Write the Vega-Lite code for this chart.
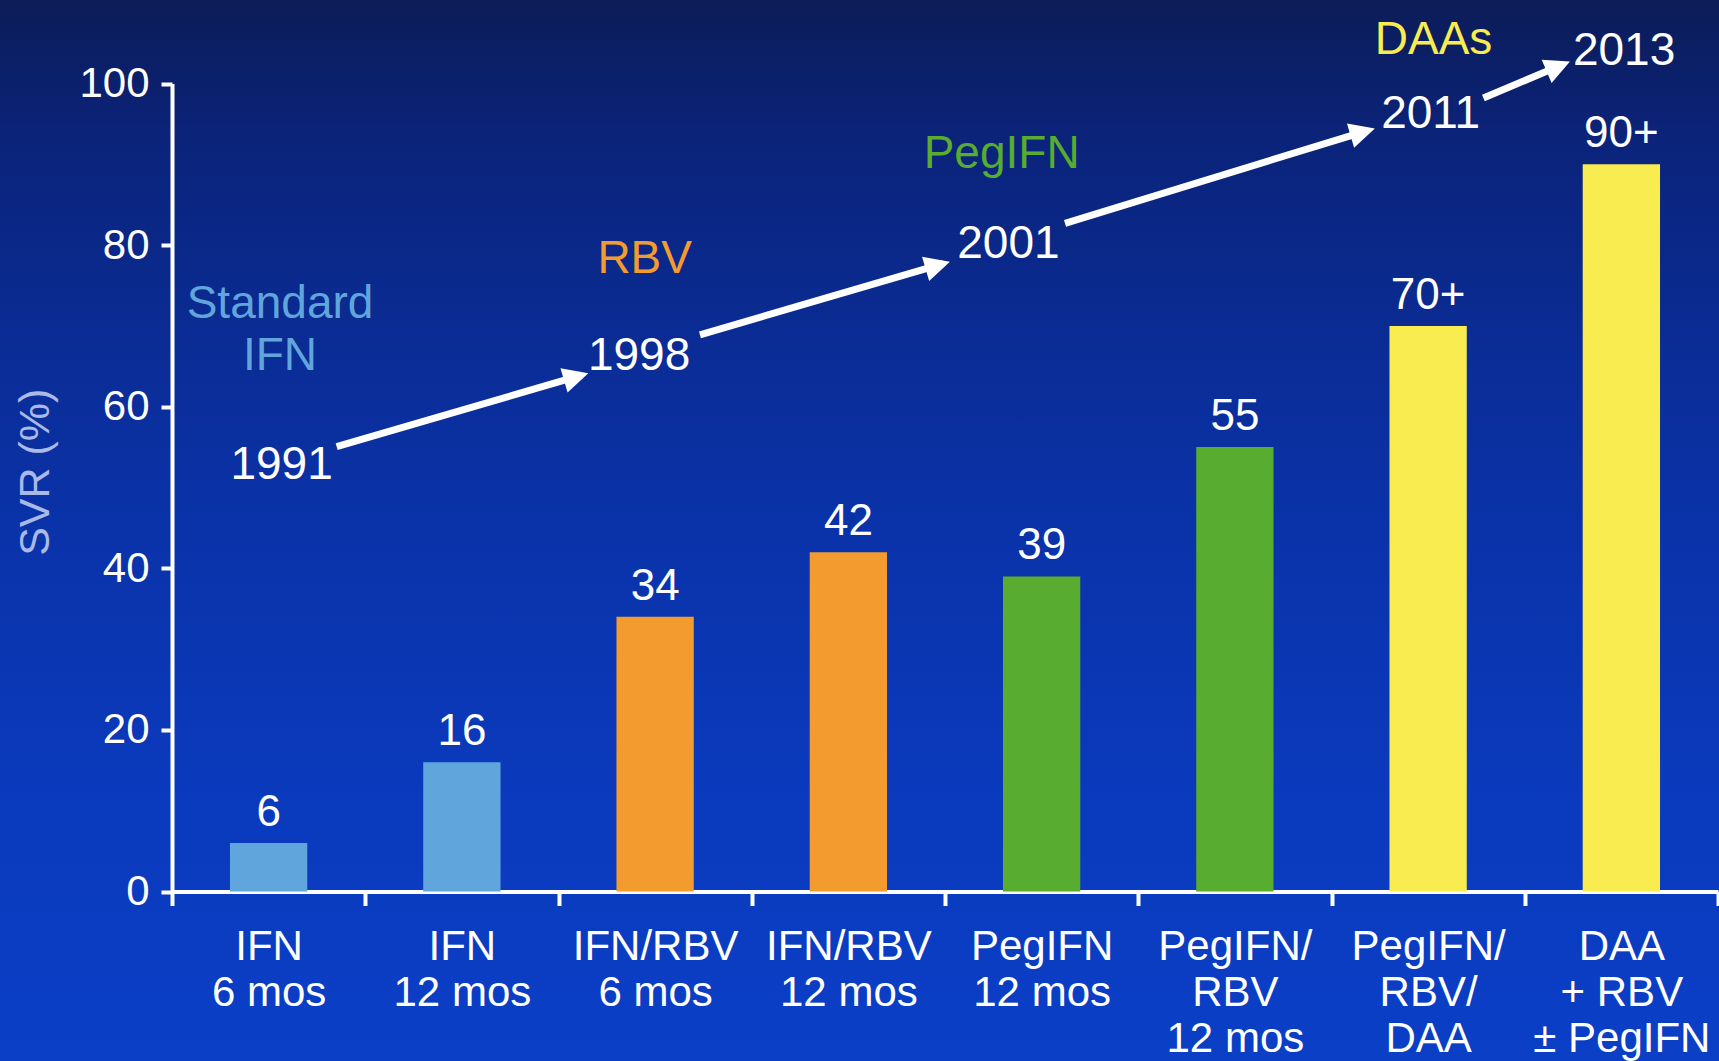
{
  "$schema": "https://vega.github.io/schema/vega-lite/v6.json",
  "width": 1719,
  "height": 1061,
  "autosize": {"type": "none"},
  "padding": 0,
  "background": "#0a2b92",
  "view": {
    "stroke": null,
    "fill": {
      "gradient": "linear",
      "x1": 0, "y1": 0, "x2": 0, "y2": 1,
      "stops": [
        {"offset": 0, "color": "#0c1c58"},
        {"offset": 0.12, "color": "#0b2378"},
        {"offset": 0.3, "color": "#0a2b92"},
        {"offset": 0.5, "color": "#0a33aa"},
        {"offset": 0.75, "color": "#0a3abd"},
        {"offset": 1, "color": "#0a3fc6"}
      ]
    }
  },
  "datasets": {
    "svr": [
      {"treatment": "IFN|6 mos", "svr": 6, "label": "6", "era": "IFN"},
      {"treatment": "IFN|12 mos", "svr": 16, "label": "16", "era": "IFN"},
      {"treatment": "IFN/RBV|6 mos", "svr": 34, "label": "34", "era": "RBV"},
      {"treatment": "IFN/RBV|12 mos", "svr": 42, "label": "42", "era": "RBV"},
      {"treatment": "PegIFN|12 mos", "svr": 39, "label": "39", "era": "PegIFN"},
      {"treatment": "PegIFN/|RBV|12 mos", "svr": 55, "label": "55", "era": "PegIFN"},
      {"treatment": "PegIFN/|RBV/|DAA", "svr": 70, "label": "70+", "era": "DAA"},
      {"treatment": "DAA|+ RBV|± PegIFN", "svr": 90, "label": "90+", "era": "DAA"}
    ],
    "eras": [
      {"u": 0.559, "v": 70.98, "text": "Standard\nIFN", "era": "IFN"},
      {"u": 2.446, "v": 76.6, "text": "RBV", "era": "RBV"},
      {"u": 4.293, "v": 89.5, "text": "PegIFN", "era": "PegIFN"},
      {"u": 6.528, "v": 103.7, "text": "DAAs", "era": "DAA"}
    ],
    "years": [
      {"u": 0.567, "v": 51.05, "year": "1991"},
      {"u": 2.417, "v": 64.6, "year": "1998"},
      {"u": 4.328, "v": 78.4, "year": "2001"},
      {"u": 6.513, "v": 94.5, "year": "2011"},
      {"u": 7.514, "v": 102.3, "year": "2013"}
    ],
    "arrows": [
      {"from": "1991", "to": "1998", "u": 0.852, "v": 55.05, "u2": 2.12, "v2": 63.9},
      {"from": "1998", "to": "2001", "u": 2.732, "v": 68.9, "u2": 3.991, "v2": 77.7},
      {"from": "2001", "to": "2011", "u": 4.621, "v": 82.7, "u2": 6.19, "v2": 94.2},
      {"from": "2011", "to": "2013", "u": 6.786, "v": 98.2, "u2": 7.201, "v2": 102.4}
    ]
  },
  "layer": [
    {
      "data": {"name": "svr"},
      "mark": {"type": "bar", "width": {"band": 0.4}},
      "encoding": {
        "x": {
          "field": "treatment",
          "type": "nominal",
          "sort": null,
          "title": null,
          "scale": {"type": "band", "range": [172, 1718], "paddingInner": 0, "paddingOuter": 0},
          "axis": {"labelExpr": "split(datum.label, '|')"}
        },
        "y": {
          "field": "svr",
          "type": "quantitative",
          "title": "SVR (%)",
          "scale": {"domain": [0, 100], "range": [891.5, 83.5], "nice": false},
          "axis": {"values": [0, 20, 40, 60, 80, 100]}
        },
        "color": {
          "field": "era",
          "type": "nominal",
          "scale": {
            "domain": ["IFN", "RBV", "PegIFN", "DAA"],
            "range": ["#60a6dc", "#f39b2f", "#58ac2f", "#f8ec50"]
          },
          "legend": null
        }
      }
    },
    {
      "data": {"name": "svr"},
      "mark": {"type": "text", "baseline": "alphabetic", "align": "center", "dy": -17, "font": "Liberation Sans", "fontSize": 44, "color": "#ffffff"},
      "encoding": {
        "x": {
          "field": "treatment",
          "type": "nominal",
          "sort": null,
          "scale": {"type": "band", "range": [172, 1718], "paddingInner": 0, "paddingOuter": 0},
          "axis": null
        },
        "y": {"field": "svr", "type": "quantitative", "title": "SVR (%)"},
        "text": {"field": "label"}
      }
    },
    {
      "data": {"name": "arrows"},
      "mark": {"type": "rule", "color": "#ffffff", "strokeWidth": 7, "strokeCap": "butt"},
      "encoding": {
        "x": {"field": "u", "type": "quantitative", "scale": {"domain": [0, 8], "range": [172, 1718]}, "axis": null},
        "y": {"field": "v", "type": "quantitative", "title": "SVR (%)"},
        "x2": {"field": "u2"},
        "y2": {"field": "v2"}
      }
    },
    {
      "data": {"name": "arrows"},
      "mark": {"type": "point", "filled": true, "shape": "M0.6,0L-1.6,-1.1L-1.6,1.1Z", "size": 529, "color": "#ffffff", "opacity": 1, "strokeWidth": 0},
      "encoding": {
        "x": {"field": "u2", "type": "quantitative", "scale": {"domain": [0, 8], "range": [172, 1718]}, "axis": null},
        "y": {"field": "v2", "type": "quantitative", "title": "SVR (%)"},
        "angle": {"condition": {"test": "datum.to === '2013'", "value": 337}, "value": 343.7}
      }
    },
    {
      "data": {"name": "eras"},
      "mark": {"type": "text", "baseline": "alphabetic", "align": "center", "font": "Liberation Sans", "fontSize": 46, "lineHeight": 52, "lineBreak": "\n"},
      "encoding": {
        "x": {"field": "u", "type": "quantitative", "scale": {"domain": [0, 8], "range": [172, 1718]}, "axis": null},
        "y": {"field": "v", "type": "quantitative", "title": "SVR (%)"},
        "text": {"field": "text"},
        "color": {"field": "era", "type": "nominal", "legend": null}
      }
    },
    {
      "data": {"name": "years"},
      "mark": {"type": "text", "baseline": "alphabetic", "align": "center", "font": "Liberation Sans", "fontSize": 46, "color": "#ffffff"},
      "encoding": {
        "x": {"field": "u", "type": "quantitative", "scale": {"domain": [0, 8], "range": [172, 1718]}, "axis": null},
        "y": {"field": "v", "type": "quantitative", "title": "SVR (%)"},
        "text": {"field": "year"}
      }
    }
  ],
  "resolve": {"scale": {"x": "independent"}, "axis": {"x": "independent"}},
  "config": {
    "font": "Liberation Sans",
    "axis": {
      "grid": false,
      "domainColor": "#ffffff",
      "domainWidth": 4,
      "tickColor": "#ffffff",
      "tickWidth": 4,
      "labelColor": "#ffffff"
    },
    "axisX": {
      "offset": -169.5,
      "tickBand": "extent",
      "tickSize": 14,
      "labelPadding": 21,
      "labelAngle": 0,
      "labelFont": "Liberation Sans",
      "labelFontSize": 42,
      "labelLineHeight": 46,
      "labelLimit": 0,
      "labelOverlap": false,
      "labelFlush": false
    },
    "axisY": {
      "offset": -172,
      "tickSize": 11,
      "labelPadding": 12,
      "labelFont": "Liberation Sans",
      "labelFontSize": 42,
      "labelFlush": false,
      "labelOverlap": false,
      "titleFont": "Liberation Sans",
      "titleFontSize": 43,
      "titleFontWeight": "normal",
      "titleColor": "#aab9e6",
      "titleAngle": 270,
      "titleAlign": "center",
      "titleBaseline": "alphabetic",
      "titleX": -124,
      "titleY": 471.7
    }
  }
}
